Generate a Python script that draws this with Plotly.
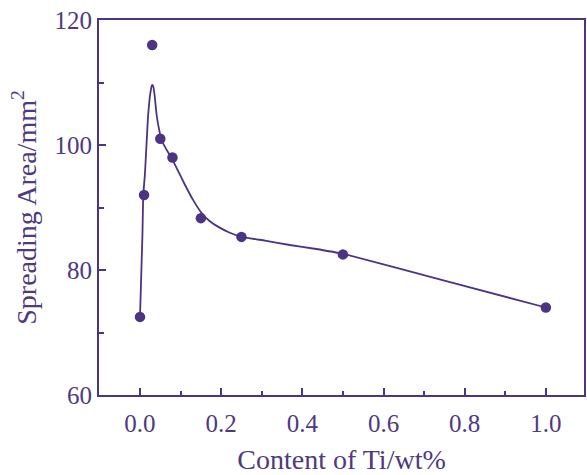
import plotly.graph_objects as go

# measured points
ti_content = [0.0, 0.01, 0.03, 0.05, 0.08, 0.15, 0.25, 0.5, 1.0]
spreading_area = [72.5, 92.0, 116.0, 101.0, 98.0, 88.3, 85.3, 82.5, 74.0]

# fitted curve
curve_x = [0.0, 0.006, 0.008, 0.012, 0.016, 0.020, 0.024, 0.027, 0.029, 0.031,
           0.033, 0.036, 0.041, 0.047, 0.053, 0.065, 0.078, 0.095, 0.111, 0.13,
           0.152, 0.172, 0.193, 0.22, 0.25, 0.308, 0.369, 0.43, 0.5, 0.75, 1.0]
curve_y = [72.5, 85.6, 92.0, 95.2, 100.0, 104.8, 107.6, 108.9, 109.5, 109.6,
           109.3, 108.0, 104.8, 102.5, 100.8, 99.3, 97.9, 95.7, 93.6, 91.3,
           89.1, 87.8, 86.9, 86.0, 85.3, 84.7, 84.0, 83.4, 82.6, 78.3, 74.0]

x_ticks = [0.0, 0.2, 0.4, 0.6, 0.8, 1.0]
x_tick_labels = ["0.0", "0.2", "0.4", "0.6", "0.8", "1.0"]
y_ticks = [60, 80, 100, 120]

COL = "#4b3483"
TXT = "#4e3a7e"
FONT = "Liberation Serif"

fig = go.Figure()
fig.add_trace(go.Scatter(x=curve_x, y=curve_y, mode="lines",
                         line=dict(color=COL, width=1.8, shape="spline", smoothing=0.3),
                         hoverinfo="skip", showlegend=False))
fig.add_trace(go.Scatter(x=ti_content, y=spreading_area, mode="markers",
                         marker=dict(color=COL, size=10.5), showlegend=False))

axis_common = dict(showgrid=False, zeroline=False, showline=True, linecolor=COL,
                   linewidth=2, mirror=True, ticks="inside", tickcolor=COL,
                   tickwidth=2, ticklen=7, automargin=False,
                   tickfont=dict(family=FONT, size=25, color=TXT))

fig.update_xaxes(range=[-0.101, 1.094], tickvals=x_ticks, ticktext=x_tick_labels,
                 ticklabelstandoff=5,
                 minor=dict(ticks="inside", dtick=0.1, ticklen=4, tickcolor=COL, tickwidth=2),
                 title=dict(text="Content of Ti/wt%", font=dict(family=FONT, size=28, color=TXT),
                            standoff=16),
                 **axis_common)
fig.update_yaxes(range=[60, 120], tickvals=y_ticks,
                 minor=dict(ticks="inside", dtick=10, ticklen=5, tickcolor=COL, tickwidth=2),
                 title=dict(text="Spreading Area/mm<sup>2</sup>",
                            font=dict(family=FONT, size=28, color=TXT), standoff=10),
                 **axis_common)

fig.update_layout(width=587, height=475, margin=dict(l=99, r=3, t=20, b=80),
                  plot_bgcolor="white", paper_bgcolor="white")

fig.write_html("out.html", config={"displayModeBar": False},
               post_script="document.body.style.margin='0';document.body.style.overflow='hidden';")
